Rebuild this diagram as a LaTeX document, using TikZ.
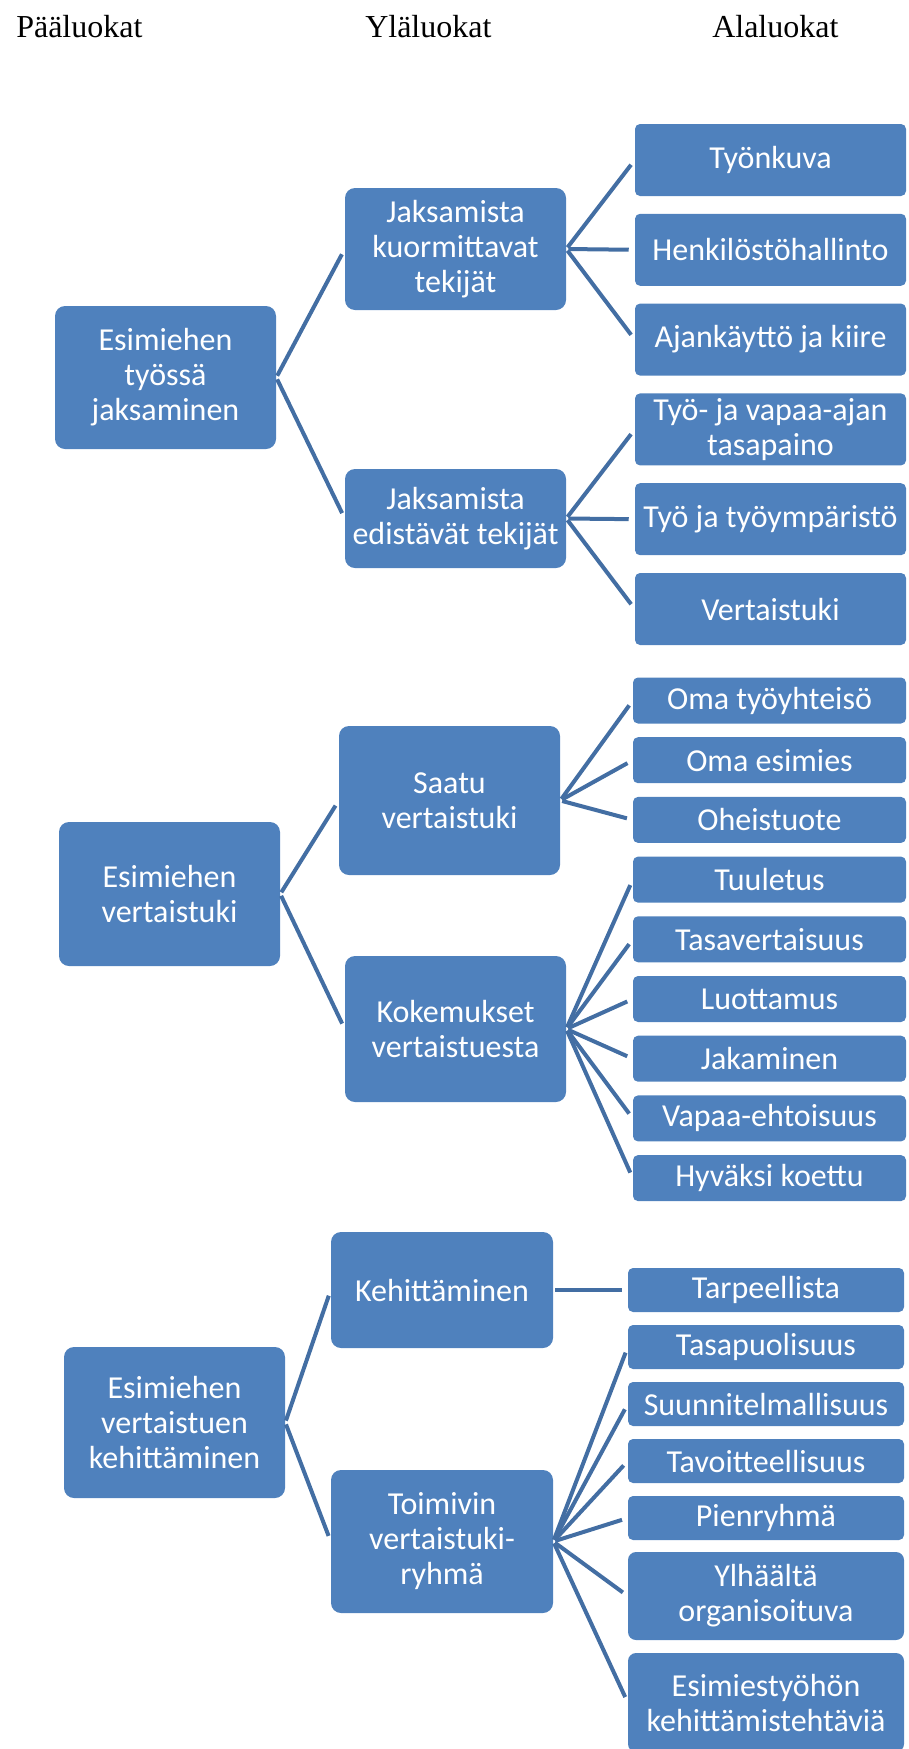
\documentclass[tikz,border=0pt]{standalone}
\usepackage{fontspec}
\setmainfont{Liberation Serif}
\newfontfamily\boxfont{Carlito}
\definecolor{boxblue}{RGB}{79,129,189}
\definecolor{lineblue}{RGB}{67,110,163}
\tikzset{
  catbox/.style 2 args={fill=boxblue, text=white, font=\boxfont\fontsize{24}{26.25}\selectfont,
    align=center, inner sep=0pt, rounded corners=7.5pt,
    minimum width=#1*0.75pt, minimum height=#2*0.75pt},
  subbox/.style 2 args={catbox={#1}{#2}, rounded corners=3.75pt},
  link/.style={draw=lineblue, line width=3pt, shorten <=1.5pt, shorten >=4.5pt},
  head/.style={anchor=base west, inner sep=0pt, font=\fontsize{24}{28}\selectfont},
}

\begin{document}
\begin{tikzpicture}[x=0.75pt, y=-0.75pt]
    \clip (0,0) rectangle (908,1749);
    \node[head] (h1) at (16,37) {Pääluokat};
    \node[head] (h2) at (365,37) {Yläluokat};
    \node[head] (h3) at (712,37) {Alaluokat};

    % Esimiehen työssä jaksaminen
    \node[catbox={221}{143}] (p1) at (165.5,377.5) {Esimiehen\\työssä\\jaksaminen};
    \node[catbox={221}{122}] (y1) at (455.5,249) {Jaksamista\\kuormittavat\\tekijät};
    \node[catbox={221}{99}] (y2) at (455.5,518.5) {Jaksamista\\edistävät tekijät};
    \foreach \t [count=\i] in {Työnkuva, Henkilöstöhallinto, Ajankäyttö ja kiire,
        Työ- ja vapaa-ajan\\tasapaino, Työ ja työympäristö, Vertaistuki}{
        \node[subbox={271}{72}] (a\i) at (770.5,{160+89.8*(\i-1)}) {\t};
    }
    \foreach \c in {y1,y2} \draw[link] (p1.east) -- (\c.west);
    \foreach \c in {a1,a2,a3} \draw[link] (y1.east) -- (\c.west);
    \foreach \c in {a4,a5,a6} \draw[link] (y2.east) -- (\c.west);

    % Esimiehen vertaistuki
    \node[catbox={221}{144}] (p2) at (169.5,894) {Esimiehen\\vertaistuki};
    \node[catbox={221}{149}] (s1) at (449.5,800.5) {Saatu\\vertaistuki};
    \node[catbox={221}{146}] (s2) at (455.5,1029) {Kokemukset\\vertaistuesta};
    \foreach \t [count=\i] in {Oma työyhteisö, Oma esimies, Oheistuote, Tuuletus,
        Tasavertaisuus, Luottamus, Jakaminen, Vapaa-ehtoisuus, Hyväksi koettu}{
        \node[subbox={273}{46}] (b\i) at (769.5,{700.5+59.7*(\i-1)}) {\t};
    }
    \foreach \c in {s1,s2} \draw[link] (p2.east) -- (\c.west);
    \foreach \c in {b1,b2,b3} \draw[link] (s1.east) -- (\c.west);
    \foreach \c in {b4,b5,b6,b7,b8,b9} \draw[link] (s2.east) -- (\c.west);

    % Esimiehen vertaistuen kehittäminen
    \node[catbox={221}{151}] (p3) at (174.5,1422.5) {Esimiehen\\vertaistuen\\kehittäminen};
    \node[catbox={222}{116}] (k1) at (442,1290) {Kehittäminen};
    \node[catbox={222}{143}] (k2) at (442,1541.5) {Toimivin\\vertaistuki-\\ryhmä};
    \foreach \t [count=\i] in {Tarpeellista, Tasapuolisuus, Suunnitelmallisuus,
        Tavoitteellisuus, Pienryhmä}{
        \node[subbox={276}{44}] (c\i) at (766,{1290+57*(\i-1)}) {\t};
    }
    \node[subbox={276}{88}, rounded corners=6pt] (c6) at (766,1596) {Ylhäältä\\organisoituva};
    \node[subbox={276}{99}, rounded corners=6pt] (c7) at (766,1702.5) {Esimiestyöhön\\kehittämistehtäviä};
    \foreach \c in {k1,k2} \draw[link] (p3.east) -- (\c.west);
    \draw[link] (k1.east) -- (c1.west);
    \foreach \c in {c2,c3,c4,c5,c6,c7} \draw[link] (k2.east) -- (\c.west);
\end{tikzpicture}
\end{document}
